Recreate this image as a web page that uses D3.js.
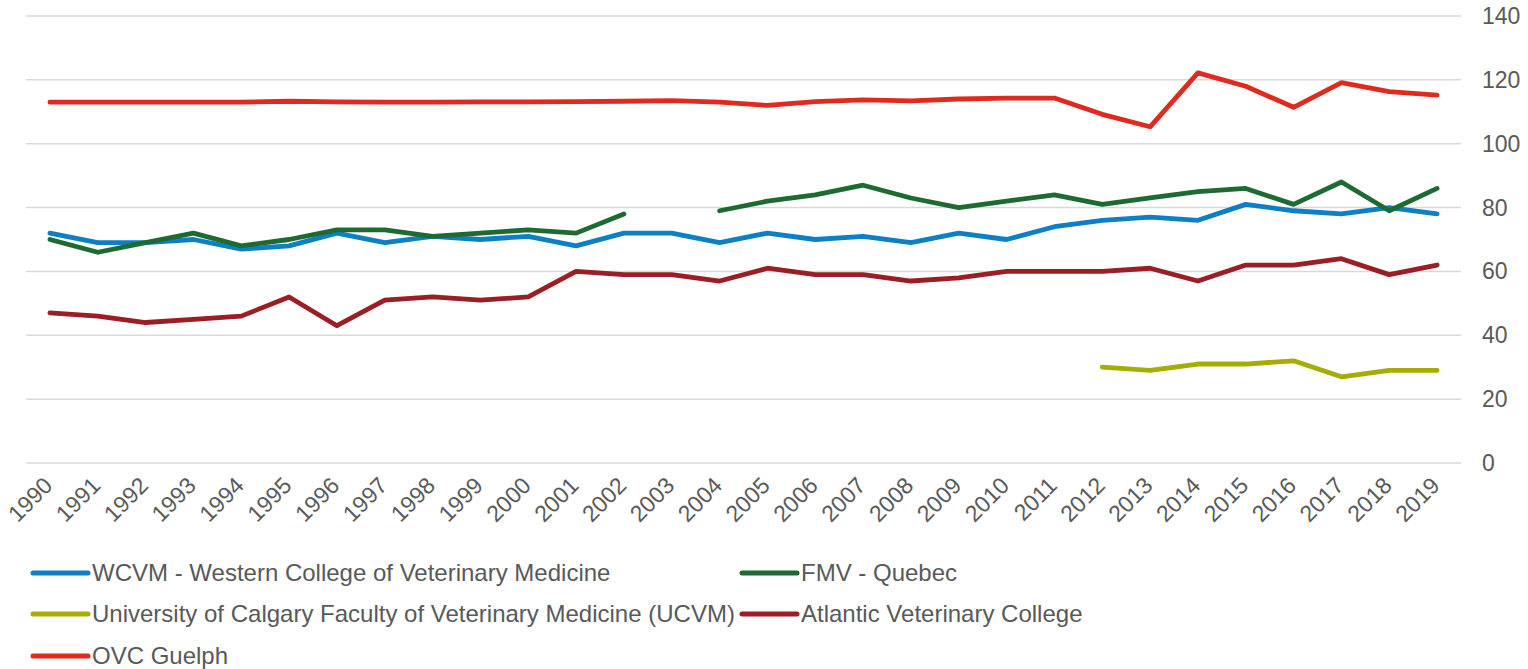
<!DOCTYPE html>
<html>
<head>
<meta charset="utf-8">
<script src="https://cdn.jsdelivr.net/npm/d3@7"></script>
<style>
  body { margin: 0; background: #fff; }
  svg { display: block; font-family: "Liberation Sans", Arial, sans-serif; }
</style>
</head>
<body>
<div id="chart"></div>
<script>
// datos del gráfico
const years = d3.range(1990, 2020).map(String);
const yTicks = [0, 20, 40, 60, 80, 100, 120, 140];

const wcvm = [72, 69, 69, 70, 67, 68, 72, 69, 71, 70, 71, 68, 72, 72, 69, 72, 70, 71, 69, 72, 70, 74, 76, 77, 76, 81, 79, 78, 80, 78];
const fmv = [70, 66, 69, 72, 68, 70, 73, 73, 71, 72, 73, 72, 78, null, 79, 82, 84, 87, 83, 80, 82, 84, 81, 83, 85, 86, 81, 88, 79, 86];
const ucvm = [null, null, null, null, null, null, null, null, null, null, null, null, null, null, null, null, null, null, null, null, null, null, 30, 29, 31, 31, 32, 27, 29, 29];
const avc = [47, 46, 44, 45, 46, 52, 43, 51, 52, 51, 52, 60, 59, 59, 57, 61, 59, 59, 57, 58, 60, 60, 60, 61, 57, 62, 62, 64, 59, 62];
const ovc = [113, 113, 113, 113, 113, 113.3, 113.1, 113, 113, 113.1, 113.1, 113.2, 113.3, 113.5, 113, 112, 113.2, 113.7, 113.4, 114, 114.3, 114.3, 109.2, 105.3, 122.2, 118, 111.4, 119.1, 116.3, 115.2];

const seriesNames = [
  "WCVM - Western College of Veterinary Medicine",
  "FMV - Quebec",
  "University of Calgary Faculty of Veterinary Medicine (UCVM)",
  "Atlantic Veterinary College",
  "OVC Guelph"
];
const seriesColors = ["#0c7fc6", "#1e6b32", "#a5ae00", "#9a1e24", "#e02a20"];
const seriesValues = [wcvm, fmv, ucvm, avc, ovc];

const width = 1528, height = 669;
const plot = { left: 26, right: 1461, top: 16, bottom: 463 };
const textColor = "#595959";

const svg = d3.select("#chart").append("svg")
  .attr("width", width)
  .attr("height", height);

// escalas
const x = d3.scaleBand()
  .domain(years)
  .range([plot.left, plot.right]);

const y = d3.scaleLinear()
  .domain([0, 140])
  .range([plot.bottom, plot.top]);

// rejilla horizontal
svg.append("g")
  .selectAll("line")
  .data(yTicks)
  .join("line")
    .attr("x1", plot.left)
    .attr("x2", plot.right)
    .attr("y1", d => y(d))
    .attr("y2", d => y(d))
    .attr("stroke", "#d9d9d9")
    .attr("stroke-width", 1.5);

// etiquetas eje Y (a la derecha)
svg.append("g")
  .selectAll("text")
  .data(yTicks)
  .join("text")
    .attr("x", 1482)
    .attr("y", d => y(d))
    .attr("dy", "0.35em")
    .attr("fill", textColor)
    .attr("font-size", "23px")
    .text(d => d);

// etiquetas eje X rotadas
svg.append("g")
  .selectAll("text")
  .data(years)
  .join("text")
    .attr("transform", d => `translate(${x(d) + x.bandwidth() / 2 + 4},${487}) rotate(-45)`)
    .attr("text-anchor", "end")
    .attr("fill", textColor)
    .attr("font-size", "23px")
    .text(d => d);

// líneas
const line = d3.line()
  .defined(d => d.v != null)
  .x(d => x(d.year) + x.bandwidth() / 2)
  .y(d => y(d.v));

seriesValues.forEach((vals, i) => {
  svg.append("path")
    .datum(vals.map((v, j) => ({ year: years[j], v })))
    .attr("fill", "none")
    .attr("stroke", seriesColors[i])
    .attr("stroke-width", 4.8)
    .attr("stroke-linejoin", "round")
    .attr("stroke-linecap", "round")
    .attr("d", line);
});

// leyenda
const legendPos = [
  { x: 33, y: 573 },
  { x: 742, y: 573 },
  { x: 33, y: 614 },
  { x: 742, y: 614 },
  { x: 33, y: 656 }
];
const legend = svg.append("g")
  .selectAll("g")
  .data(seriesNames)
  .join("g")
    .attr("transform", (d, i) => `translate(${legendPos[i].x},${legendPos[i].y})`);

legend.append("line")
  .attr("x1", 0)
  .attr("x2", 55)
  .attr("stroke", (d, i) => seriesColors[i])
  .attr("stroke-width", 5)
  .attr("stroke-linecap", "round");

legend.append("text")
  .attr("x", 59)
  .attr("dy", "0.35em")
  .attr("fill", textColor)
  .attr("font-size", "24px")
  .text(d => d);
</script>
</body>
</html>
